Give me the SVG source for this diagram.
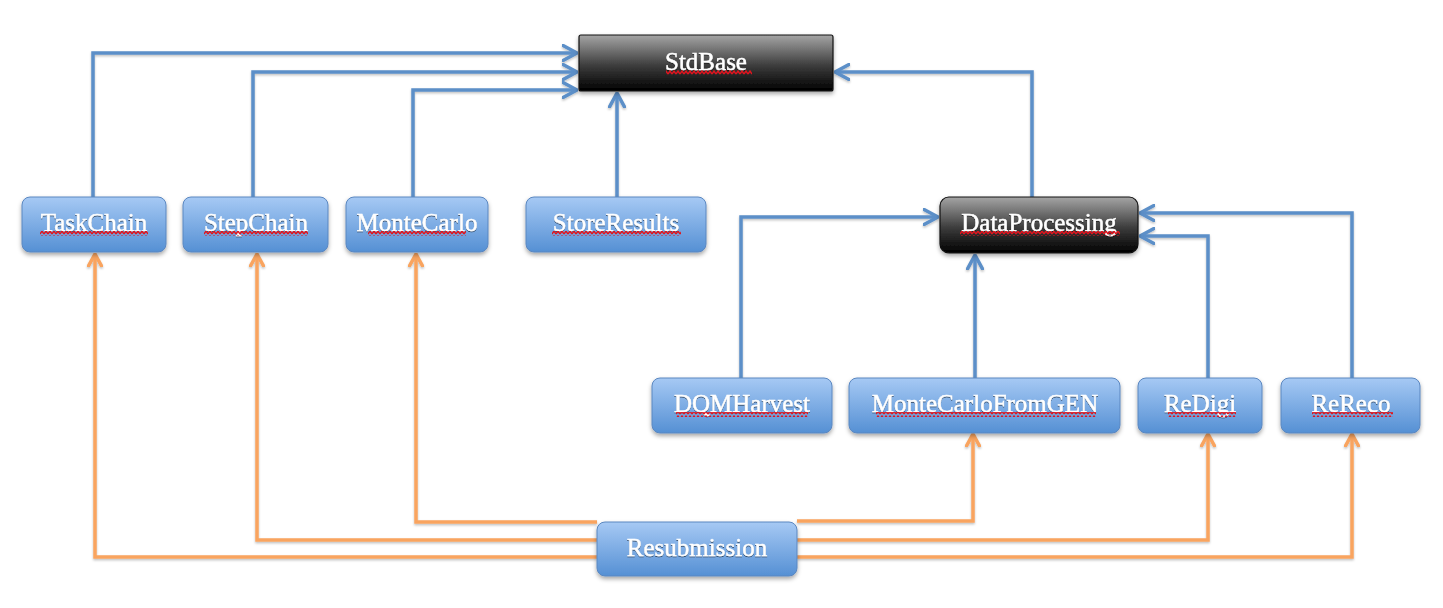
<svg xmlns="http://www.w3.org/2000/svg" width="1443" height="608" viewBox="0 0 1443 608">
<defs>
<linearGradient id="gBlue" x1="0" y1="0" x2="0" y2="1">
<stop offset="0" stop-color="#a6c9f4"/>
<stop offset="1" stop-color="#5590d4"/>
</linearGradient>
<linearGradient id="gDark" x1="0" y1="0" x2="0" y2="1">
<stop offset="0" stop-color="#a5a5a5"/>
<stop offset="0.55" stop-color="#3c3c3c"/>
<stop offset="1" stop-color="#000000"/>
</linearGradient>
<filter id="shadow" x="-10%" y="-20%" width="120%" height="160%">
<feDropShadow dx="0" dy="2.5" stdDeviation="2" flood-color="#000" flood-opacity="0.35"/>
</filter>
<filter id="lshadow" x="-5%" y="-5%" width="110%" height="110%">
<feDropShadow dx="0" dy="1.5" stdDeviation="1" flood-color="#000" flood-opacity="0.25"/>
</filter>
<filter id="tshadow" x="-5%" y="-20%" width="110%" height="160%">
<feDropShadow dx="0" dy="1" stdDeviation="0.7" flood-color="#000" flood-opacity="0.55"/>
</filter>
<pattern id="squiggle" patternUnits="userSpaceOnUse" x="0" y="0" width="4" height="5">
<path d="M0,4 L2,1 L4,4" fill="none" stroke="#e0141e" stroke-width="1.4"/>
</pattern>
<marker id="aBlue" markerUnits="userSpaceOnUse" viewBox="0 0 16 18" refX="15" refY="9" markerWidth="16" markerHeight="18" orient="auto">
<path d="M1,1.5 L15,9 L1,16.5" fill="none" stroke="#5b8fc8" stroke-width="3.5" stroke-linecap="round" stroke-linejoin="round"/>
</marker>
<marker id="aOrange" markerUnits="userSpaceOnUse" viewBox="0 0 14 16" refX="13" refY="8" markerWidth="14" markerHeight="16" orient="auto">
<path d="M1,1.5 L13,8 L1,14.5" fill="none" stroke="#f9a45f" stroke-width="3.5" stroke-linecap="round" stroke-linejoin="round"/>
</marker>
<style>
.blue{fill:url(#gBlue);stroke:#5a87c0;stroke-width:1}
.dark{fill:url(#gDark);stroke:#111;stroke-width:1.2}
.lbl{font-family:"Liberation Serif","Times New Roman",serif;font-size:25px;fill:#fff;stroke:#fff;stroke-width:0.45;text-anchor:middle}
.cb{fill:none;stroke:#5b8fc8;stroke-width:3.5;marker-end:url(#aBlue)}
.co{fill:none;stroke:#f9a45f;stroke-width:3.5;marker-end:url(#aOrange)}
.sq{fill:url(#squiggle)}
</style>
</defs>
<rect width="1443" height="608" fill="#fff"/>
<g id="connectors" filter="url(#lshadow)">
<path class="cb" d="M93,197 V53 H577"/>
<path class="cb" d="M253,197 V72 H577"/>
<path class="cb" d="M413,197 V90 H577"/>
<path class="cb" d="M617,197 V93"/>
<path class="cb" d="M1032,197 V72 H835"/>
<path class="cb" d="M741,378 V217 H938"/>
<path class="cb" d="M975,378 V255"/>
<path class="cb" d="M1208,378 V236 H1140"/>
<path class="cb" d="M1352,378 V213 H1140"/>
<path class="co" d="M597,522 H416 V254"/>
<path class="co" d="M597,540 H257 V254"/>
<path class="co" d="M597,557 H95 V254"/>
<path class="co" d="M797,521 H973 V434"/>
<path class="co" d="M797,540 H1208 V434"/>
<path class="co" d="M797,557 H1352 V434"/>
</g>
<g id="StdBase" filter="url(#shadow)">
<rect class="dark" x="579" y="35" width="254" height="56" rx="2"/>
<text class="lbl" x="706" y="70" filter="url(#tshadow)">StdBase</text>
<rect class="sq" x="666" y="70" width="86" height="5"/>
</g>
<g id="DataProcessing" filter="url(#shadow)">
<rect class="dark" x="940" y="197" width="198" height="56" rx="9"/>
<text class="lbl" x="1039" y="231" filter="url(#tshadow)">DataProcessing</text>
<rect class="sq" x="960" y="231" width="160" height="5"/>
</g>
<g id="TaskChain" filter="url(#shadow)">
<rect class="blue" x="22" y="197" width="144" height="55" rx="8"/>
<text class="lbl" x="94" y="231" filter="url(#tshadow)">TaskChain</text>
<rect class="sq" x="40" y="231" width="108" height="5"/>
</g>
<g id="StepChain" filter="url(#shadow)">
<rect class="blue" x="183" y="197" width="145" height="55" rx="8"/>
<text class="lbl" x="256" y="231" filter="url(#tshadow)">StepChain</text>
<rect class="sq" x="204" y="231" width="104" height="5"/>
</g>
<g id="MonteCarlo" filter="url(#shadow)">
<rect class="blue" x="346" y="197" width="142" height="55" rx="8"/>
<text class="lbl" x="417" y="231" filter="url(#tshadow)">MonteCarlo</text>
<rect class="sq" x="368" y="231" width="98" height="5"/>
</g>
<g id="StoreResults" filter="url(#shadow)">
<rect class="blue" x="526" y="197" width="180" height="55" rx="8"/>
<text class="lbl" x="616" y="231" filter="url(#tshadow)">StoreResults</text>
<rect class="sq" x="552" y="231" width="129" height="5"/>
</g>
<g id="DQMHarvest" filter="url(#shadow)">
<rect class="blue" x="652" y="378" width="180" height="55" rx="8"/>
<text class="lbl" x="742" y="412" filter="url(#tshadow)">DQMHarvest</text>
<rect class="sq" x="676" y="412" width="132" height="5"/>
</g>
<g id="MonteCarloFromGEN" filter="url(#shadow)">
<rect class="blue" x="849" y="378" width="271" height="55" rx="8"/>
<text class="lbl" x="985" y="412" filter="url(#tshadow)">MonteCarloFromGEN</text>
<rect class="sq" x="876" y="412" width="220" height="5"/>
</g>
<g id="ReDigi" filter="url(#shadow)">
<rect class="blue" x="1138" y="378" width="124" height="55" rx="8"/>
<text class="lbl" x="1200" y="412" filter="url(#tshadow)">ReDigi</text>
<rect class="sq" x="1168" y="412" width="68" height="5"/>
</g>
<g id="ReReco" filter="url(#shadow)">
<rect class="blue" x="1281" y="378" width="139" height="55" rx="8"/>
<text class="lbl" x="1351" y="412" filter="url(#tshadow)">ReReco</text>
<rect class="sq" x="1312" y="412" width="81" height="5"/>
</g>
<g id="Resubmission" filter="url(#shadow)">
<rect class="blue" x="597" y="522" width="200" height="54" rx="8"/>
<text class="lbl" x="697" y="556" filter="url(#tshadow)">Resubmission</text>
</g>
</svg>
